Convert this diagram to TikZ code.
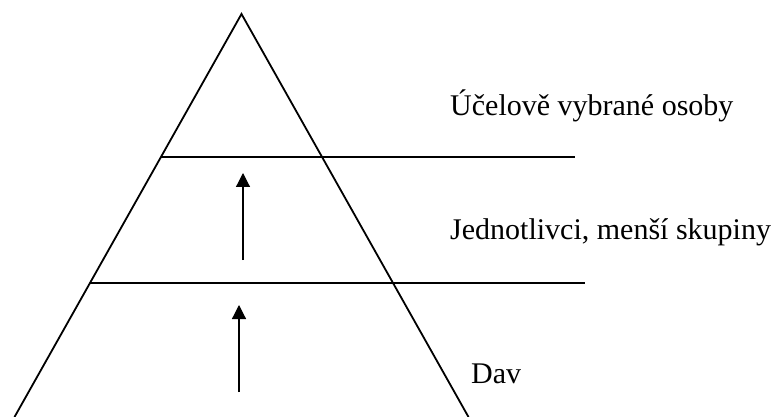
\documentclass[tikz,border=0pt]{standalone}
\usepackage{fontspec}
\setmainfont{Liberation Serif}
\usetikzlibrary{arrows.meta}
\begin{document}
\begin{tikzpicture}[x=1pt,y=-1pt,
  leg/.style={line width=1.8pt},
  level/.style={line width=1.8pt},
  uparrow/.style={line width=1.2pt,-{Triangle[width=14pt,length=14pt]}},
  label/.style={anchor=base west,inner sep=0pt,font=\fontsize{30}{36}\selectfont}]
\useasboundingbox (0,0) rectangle (777,417);
\coordinate (apex) at (241.5,14);
\coordinate (bl) at (14.5,417);
\coordinate (br) at (468.5,417);
\draw[leg,line join=miter] (bl) -- (apex) -- (br);
\coordinate (l1a) at (161,157);
\coordinate (l1b) at (575,157);
\coordinate (l2a) at (90,283);
\coordinate (l2b) at (585,283);
\draw[level] (l1a) -- (l1b);
\draw[level] (l2a) -- (l2b);
\coordinate (a1s) at (243,260);
\coordinate (a1e) at (243,173);
\coordinate (a2s) at (239,392);
\coordinate (a2e) at (239,305);
\draw[uparrow] (a1s) -- (a1e);
\draw[uparrow] (a2s) -- (a2e);
\node[label] (t1) at (450,116) {Účelově vybrané osoby};
\node[label] (t2) at (450,239) {Jednotlivci, menší skupiny};
\node[label] (t3) at (471,383) {Dav};
\end{tikzpicture}
\end{document}
